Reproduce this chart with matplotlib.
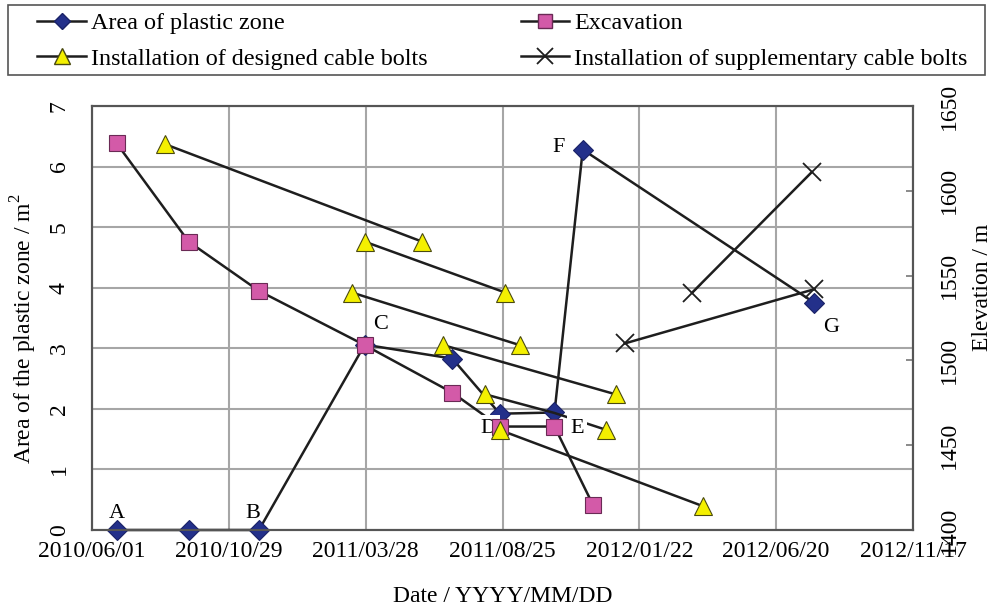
import matplotlib
matplotlib.use('Agg')
import matplotlib.pyplot as plt
from matplotlib.lines import Line2D
from matplotlib.patches import Rectangle
from datetime import datetime

plt.rcParams['font.family'] = ['Liberation Serif', 'DejaVu Serif']
plt.rcParams['mathtext.fontset'] = 'custom'
plt.rcParams['mathtext.rm'] = 'Liberation Serif'

# ---------------- data ----------------
# Area of plastic zone (left axis, m^2)
plastic_dates = ['2010/06/28', '2010/09/15', '2010/12/01', '2011/03/27', '2011/07/01',
                 '2011/08/22', '2011/10/21', '2011/11/21', '2012/08/01']
plastic_area = [0, 0, 0, 3.06, 2.83, 1.92, 1.94, 6.28, 3.75]

# Excavation (right axis, elevation m)
excav_dates = ['2010/06/28', '2010/09/15', '2010/12/01', '2011/03/27', '2011/07/01',
               '2011/08/22', '2011/10/21', '2011/12/02']
excav_elev = [1628, 1570, 1541, 1509, 1481, 1461, 1461, 1415]

# Installation of designed cable bolts (right axis), one list per segment
designed_dates = [['2010/08/20', '2011/05/29'],
                  ['2011/03/27', '2011/08/28'],
                  ['2011/03/13', '2011/09/13'],
                  ['2011/06/21', '2011/12/27'],
                  ['2011/08/06', '2011/10/21', '2011/12/17'],
                  ['2011/08/22', '2012/04/01']]
designed_elev = [[1627.5, 1570],
                 [1570, 1540],
                 [1540, 1509],
                 [1509, 1480],
                 [1480, 1469, 1459],
                 [1459, 1414]]

# Installation of supplementary cable bolts (right axis)
supp_dates = [['2012/01/06', '2012/08/01'],
              ['2012/03/20', '2012/07/29']]
supp_elev = [[1510, 1542],
             [1540, 1611]]

# point labels
label_text = ['A', 'B', 'C', 'D', 'E', 'F', 'G']
label_dates = ['2010/06/28', '2010/11/24', '2011/04/13', '2011/08/10', '2011/11/15',
               '2011/10/26', '2012/08/19']
label_vals = [0.28, 0.28, 3.40, 1.68, 1.68, 6.32, 3.35]

x_ticks = ['2010/06/01', '2010/10/29', '2011/03/28', '2011/08/25', '2012/01/22',
           '2012/06/20', '2012/11/17']


def d(s):
    return datetime.strptime(s, '%Y/%m/%d')


# ---------------- styles ----------------
LINE = '#1e1e1e'
BLUE = '#23308a'
PINK = '#d35aa8'
YEL = '#f4f000'
GRID = '#a6a6a6'
FS = 17

fig = plt.figure(figsize=(9.93, 6.11), dpi=100)
ax = fig.add_axes([92 / 993, 1 - 530 / 611, (913 - 92) / 993, (530 - 106) / 611])
ax2 = ax.twinx()

# plastic zone on left axis
pdx = [d(s) for s in plastic_dates]
ax.plot(pdx, plastic_area, color=LINE, lw=1.8, zorder=3, clip_on=False)
ax.plot(pdx, plastic_area, ls='none', marker='D', ms=10, mfc=BLUE, mec='#1a2266',
        mew=0.8, zorder=4, clip_on=False)

ax.set_xlim(d('2010/06/01'), d('2012/11/17'))
ax.set_ylim(0, 7)
ax.set_xticks([d(s) for s in x_ticks])
ax.set_xticklabels(x_ticks, fontsize=FS)
ax.set_yticks(range(0, 8))
ax.set_yticklabels([str(i) for i in range(0, 8)], fontsize=FS, rotation=90, va='center')
ax.grid(True, color=GRID, lw=1.5)
ax.set_axisbelow(True)
ax.tick_params(axis='x', length=0, pad=8)
ax.tick_params(axis='y', length=0, pad=16)
for sp in ax.spines.values():
    sp.set_color('#555555')
    sp.set_linewidth(1.5)
ax.set_xlabel('Date / YYYY/MM/DD', fontsize=FS, labelpad=17)
ax.set_ylabel('Area of the plastic zone / m$^2$', fontsize=FS, labelpad=3)
ax.yaxis.set_label_coords(-0.065, 0.476)

# right axis series
edx = [d(s) for s in excav_dates]
ax2.plot(edx, excav_elev, color=LINE, lw=1.8, zorder=2)
for ds, es in zip(designed_dates, designed_elev):
    ax2.plot([d(s) for s in ds], es, color=LINE, lw=1.8, zorder=2)
for ds, es in zip(supp_dates, supp_elev):
    ax2.plot([d(s) for s in ds], es, color=LINE, lw=1.8, zorder=2)

ax2.plot(edx, excav_elev, ls='none', marker='s', ms=12, mfc=PINK, mec='#6a2a55',
         mew=0.8, zorder=5)
for ds, es in zip(designed_dates, designed_elev):
    xs = [d(ds[0]), d(ds[-1])]
    ys = [es[0], es[-1]]
    ax2.plot(xs, ys, ls='none', marker='^', ms=13, mfc=YEL, mec='#4a4a10',
             mew=0.8, zorder=5)
for ds, es in zip(supp_dates, supp_elev):
    ax2.plot([d(s) for s in ds], es, ls='none', marker='x', ms=13, mec=LINE,
             mew=1.3, zorder=5)

ax2.set_ylim(1400, 1650)
ax2.set_yticks(range(1400, 1651, 50))
ax2.set_yticklabels([str(v) for v in range(1400, 1651, 50)], fontsize=FS,
                    rotation=90, va='center')
ax2.tick_params(axis='y', direction='in', length=5, width=1.2, color='#777777', pad=19)
for sp in ax2.spines.values():
    sp.set_color('#555555')
    sp.set_linewidth(1.5)
ax2.set_ylabel('Elevation / m', fontsize=FS, rotation=90)
ax2.yaxis.set_label_coords(1.072, 0.573)

# point labels (placed in left-axis data coordinates)
for t, ds, v in zip(label_text, label_dates, label_vals):
    ax2.text(d(ds), v, t, transform=ax.transData, fontsize=16, ha='center',
             va='center', zorder=3,
             bbox=dict(boxstyle='square,pad=0.15', fc='white', ec='none')
             if t in ('D', 'E') else None)

# legend
handles = [
    Line2D([], [], color=LINE, lw=1.8, marker='D', ms=8, mfc=BLUE, mec='#1a2266'),
    Line2D([], [], color=LINE, lw=1.8, marker='^', ms=11, mfc=YEL, mec='#4a4a10'),
    Line2D([], [], color=LINE, lw=1.8, marker='s', ms=10, mfc=PINK, mec='#6a2a55'),
    Line2D([], [], color=LINE, lw=1.8, marker='x', ms=11, mec=LINE, mew=1.3),
]
labels = ['Area of plastic zone', 'Installation of designed cable bolts',
          'Excavation', 'Installation of supplementary cable bolts']
leg = fig.legend(handles, labels, loc='center', ncol=2, mode='expand',
                 bbox_to_anchor=(29 / 993, 1 - 76 / 611, (976 - 29) / 993, 70 / 611),
                 fontsize=17.4, frameon=False, handlelength=2.0,
                 handletextpad=0.2, borderpad=0.35, labelspacing=0.55,
                 borderaxespad=0)
fig.patches.append(Rectangle((8 / 993, 1 - 75 / 611), 977 / 993, 70 / 611,
                             transform=fig.transFigure, fill=False,
                             ec='#555555', lw=1.2))

fig.savefig('out.png', dpi=100)
